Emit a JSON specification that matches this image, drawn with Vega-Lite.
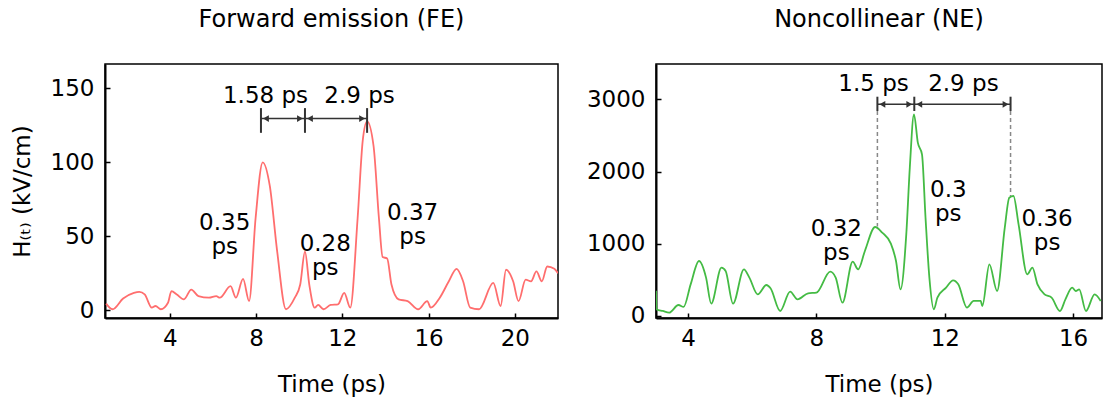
{
  "$schema": "https://vega.github.io/schema/vega-lite/v6.json",
  "background": "white",
  "padding": {"left": 10, "top": 7, "right": 0, "bottom": 5},
  "bounds": "flush",
  "spacing": 98,
  "config": {
    "font": "DejaVu Sans",
    "view": {"stroke": "black", "strokeWidth": 1.5},
    "axis": {
      "grid": false,
      "domainColor": "black",
      "domainWidth": 2,
      "tickColor": "black",
      "tickWidth": 1.5,
      "tickSize": -5,
      "labelFontSize": 23,
      "labelColor": "black",
      "titleFontSize": 23,
      "titleFontWeight": "normal",
      "titleColor": "black",
      "format": "d"
    },
    "axisX": {"labelPadding": 14, "titlePadding": 23},
    "axisY": {"labelPadding": 16, "titlePadding": 16},
    "title": {"fontSize": 24, "fontWeight": "normal", "color": "black", "offset": 32}
  },
  "datasets": {
    "fe": [
      {"t": 1.05, "h": 4.5}, {"t": 1.35, "h": 0.7}, {"t": 1.84, "h": 8.0}, {"t": 2.34, "h": 11.8}, {"t": 2.59, "h": 12.5},
      {"t": 2.84, "h": 10.7}, {"t": 3.17, "h": 1.8}, {"t": 3.34, "h": 2.9}, {"t": 3.59, "h": 0.7}, {"t": 3.92, "h": 5.1},
      {"t": 4.08, "h": 12.9}, {"t": 4.33, "h": 10.7}, {"t": 4.66, "h": 7.4}, {"t": 5.0, "h": 14}, {"t": 5.33, "h": 9.6},
      {"t": 5.82, "h": 8.5}, {"t": 6.16, "h": 9.6}, {"t": 6.32, "h": 8.5}, {"t": 6.82, "h": 16.3}, {"t": 7.07, "h": 8.5},
      {"t": 7.4, "h": 21.2}, {"t": 7.68, "h": 6.2}, {"t": 7.98, "h": 62}, {"t": 8.31, "h": 100}, {"t": 8.64, "h": 84},
      {"t": 8.98, "h": 40}, {"t": 9.39, "h": 0.7}, {"t": 9.8, "h": 8.5}, {"t": 10.05, "h": 17.4}, {"t": 10.27, "h": 39.7},
      {"t": 10.47, "h": 17.4}, {"t": 10.72, "h": 1.8}, {"t": 10.88, "h": 3.6}, {"t": 11.13, "h": 0.7}, {"t": 11.46, "h": 3.6},
      {"t": 11.8, "h": 4.0}, {"t": 12.09, "h": 11.8}, {"t": 12.37, "h": 1.8}, {"t": 12.71, "h": 62}, {"t": 12.95, "h": 115},
      {"t": 13.15, "h": 127.7}, {"t": 13.45, "h": 111}, {"t": 13.7, "h": 62}, {"t": 13.87, "h": 36}, {"t": 14.08, "h": 35},
      {"t": 14.28, "h": 17.4}, {"t": 14.61, "h": 7.4}, {"t": 15.03, "h": 6.2}, {"t": 15.52, "h": 0.7}, {"t": 15.94, "h": 6.2},
      {"t": 16.1, "h": 1.8}, {"t": 16.52, "h": 8.5}, {"t": 16.94, "h": 19.6}, {"t": 17.3, "h": 28}, {"t": 17.6, "h": 19.6},
      {"t": 17.93, "h": 1.8}, {"t": 18.34, "h": 0.7}, {"t": 19.0, "h": 18.5}, {"t": 19.34, "h": 2.9}, {"t": 19.59, "h": 27.4},
      {"t": 19.92, "h": 19.6}, {"t": 20.17, "h": 6.2}, {"t": 20.5, "h": 20.7}, {"t": 20.75, "h": 19.6}, {"t": 21.0, "h": 26.3},
      {"t": 21.25, "h": 19.6}, {"t": 21.5, "h": 29.6}, {"t": 21.83, "h": 28}, {"t": 22.0, "h": 25}
    ],
    "ne": [
      {"t": 3.0, "h": 350}, {"t": 3.02, "h": 90}, {"t": 3.21, "h": 69}, {"t": 3.41, "h": 46}, {"t": 3.7, "h": 152},
      {"t": 3.86, "h": 125}, {"t": 4.08, "h": 438}, {"t": 4.34, "h": 761}, {"t": 4.56, "h": 531}, {"t": 4.72, "h": 171},
      {"t": 5.04, "h": 669}, {"t": 5.17, "h": 623}, {"t": 5.4, "h": 171}, {"t": 5.74, "h": 646}, {"t": 5.91, "h": 531},
      {"t": 6.17, "h": 300}, {"t": 6.44, "h": 429}, {"t": 6.57, "h": 383}, {"t": 6.87, "h": 69}, {"t": 7.18, "h": 337},
      {"t": 7.41, "h": 231}, {"t": 7.74, "h": 314}, {"t": 8.0, "h": 323}, {"t": 8.43, "h": 614}, {"t": 8.6, "h": 531},
      {"t": 8.81, "h": 185}, {"t": 9.13, "h": 752}, {"t": 9.3, "h": 646}, {"t": 9.51, "h": 900}, {"t": 9.83, "h": 1232},
      {"t": 10.05, "h": 1154}, {"t": 10.32, "h": 1001}, {"t": 10.48, "h": 761}, {"t": 10.62, "h": 369}, {"t": 10.8, "h": 1130},
      {"t": 10.91, "h": 2053}, {"t": 11.04, "h": 2792}, {"t": 11.16, "h": 2400}, {"t": 11.29, "h": 2238}, {"t": 11.4, "h": 1361},
      {"t": 11.52, "h": 531}, {"t": 11.66, "h": 92}, {"t": 11.77, "h": 254}, {"t": 12.04, "h": 392}, {"t": 12.26, "h": 494},
      {"t": 12.42, "h": 438}, {"t": 12.69, "h": 115}, {"t": 12.9, "h": 208}, {"t": 13.12, "h": 208}, {"t": 13.17, "h": 138},
      {"t": 13.39, "h": 715}, {"t": 13.63, "h": 346}, {"t": 13.87, "h": 1223}, {"t": 14.01, "h": 1638}, {"t": 14.14, "h": 1661},
      {"t": 14.3, "h": 1269}, {"t": 14.57, "h": 577}, {"t": 14.73, "h": 669}, {"t": 14.89, "h": 438}, {"t": 15.11, "h": 300},
      {"t": 15.33, "h": 254}, {"t": 15.59, "h": 69}, {"t": 15.76, "h": 231}, {"t": 15.97, "h": 392}, {"t": 16.08, "h": 346},
      {"t": 16.19, "h": 369}, {"t": 16.4, "h": 69}, {"t": 16.67, "h": 300}, {"t": 16.86, "h": 208}
    ],
    "feBars": [
      {"t": 8.23, "y1": 136.6, "y2": 119.9},
      {"t": 10.27, "y1": 136.6, "y2": 119.9},
      {"t": 13.15, "y1": 136.6, "y2": 119.9}
    ],
    "feArrows": [
      {"x1": 8.23, "x2": 10.27, "y": 129.5},
      {"x1": 10.27, "x2": 13.15, "y": 129.5}
    ],
    "feText": [
      {"x": 8.44, "y": 145, "label": ["1.58 ps"]},
      {"x": 12.8, "y": 145, "label": ["2.9 ps"]},
      {"x": 6.55, "y": 59, "label": ["0.35", "ps"]},
      {"x": 11.21, "y": 45, "label": ["0.28", "ps"]},
      {"x": 15.26, "y": 65.5, "label": ["0.37", "ps"]}
    ],
    "neBars": [
      {"t": 9.9, "y1": 3036, "y2": 2838},
      {"t": 11.05, "y1": 3036, "y2": 2838},
      {"t": 14.05, "y1": 3036, "y2": 2838}
    ],
    "neDash": [
      {"t": 9.9, "y1": 2838, "y2": 1240},
      {"t": 14.05, "y1": 2838, "y2": 1660}
    ],
    "neArrows": [
      {"x1": 9.9, "x2": 11.05, "y": 2930},
      {"x1": 11.05, "x2": 14.05, "y": 2930}
    ],
    "neText": [
      {"x": 9.78, "y": 3216, "label": ["1.5 ps"]},
      {"x": 12.58, "y": 3216, "label": ["2.9 ps"]},
      {"x": 8.62, "y": 1211, "label": ["0.32", "ps"]},
      {"x": 12.11, "y": 1742, "label": ["0.3", "ps"]},
      {"x": 15.19, "y": 1338, "label": ["0.36", "ps"]}
    ]
  },
  "hconcat": [
    {
      "width": 453,
      "height": 254,
      "title": {"text": "Forward emission (FE)", "fontSize": 24, "fontWeight": "normal", "offset": 32},
      "layer": [
        {
          "data": {"name": "fe"},
          "mark": {"type": "line", "color": "#ff6e6e", "strokeWidth": 1.8, "interpolate": "monotone", "clip": true},
          "encoding": {
            "x": {"field": "t", "type": "quantitative", "title": "Time (ps)",
                  "scale": {"domain": [1, 22], "nice": false, "zero": false},
                  "axis": {"values": [4, 8, 12, 16, 20]}},
            "y": {"field": "h", "type": "quantitative", "title": "H₍ₜ₎ (kV/cm)",
                  "scale": {"domain": [-5.2, 166.4], "nice": false, "zero": false},
                  "axis": {"values": [0, 50, 100, 150]}}
          }
        },
        {
          "data": {"name": "feBars"},
          "mark": {"type": "rule", "color": "#333333", "strokeWidth": 2},
          "encoding": {
            "x": {"field": "t", "type": "quantitative", "title": "Time (ps)"},
            "y": {"field": "y1", "type": "quantitative", "title": "H₍ₜ₎ (kV/cm)"},
            "y2": {"field": "y2"}
          }
        },
        {
          "data": {"name": "feArrows"},
          "mark": {"type": "rule", "color": "#333333", "strokeWidth": 1.5},
          "encoding": {
            "x": {"field": "x1", "type": "quantitative", "title": "Time (ps)"},
            "x2": {"field": "x2"},
            "y": {"field": "y", "type": "quantitative", "title": "H₍ₜ₎ (kV/cm)"}
          }
        },
        {
          "data": {"name": "feArrows"},
          "mark": {"type": "point", "shape": "triangle-left", "filled": true, "size": 45, "xOffset": 5, "color": "#333333", "opacity": 1},
          "encoding": {
            "x": {"field": "x1", "type": "quantitative", "title": "Time (ps)"},
            "y": {"field": "y", "type": "quantitative", "title": "H₍ₜ₎ (kV/cm)"}
          }
        },
        {
          "data": {"name": "feArrows"},
          "mark": {"type": "point", "shape": "triangle-right", "filled": true, "size": 45, "xOffset": -5, "color": "#333333", "opacity": 1},
          "encoding": {
            "x": {"field": "x2", "type": "quantitative", "title": "Time (ps)"},
            "y": {"field": "y", "type": "quantitative", "title": "H₍ₜ₎ (kV/cm)"}
          }
        },
        {
          "data": {"name": "feText"},
          "mark": {"type": "text", "fontSize": 23, "lineHeight": 24, "color": "black", "baseline": "middle", "align": "center"},
          "encoding": {
            "x": {"field": "x", "type": "quantitative", "title": "Time (ps)"},
            "y": {"field": "y", "type": "quantitative", "title": "H₍ₜ₎ (kV/cm)"},
            "text": {"field": "label"}
          }
        }
      ]
    },
    {
      "width": 446,
      "height": 254,
      "title": {"text": "Noncollinear (NE)", "fontSize": 24, "fontWeight": "normal", "offset": 32},
      "layer": [
        {
          "data": {"name": "ne"},
          "mark": {"type": "line", "color": "#44bb44", "strokeWidth": 1.8, "interpolate": "monotone", "clip": true},
          "encoding": {
            "x": {"field": "t", "type": "quantitative", "title": "Time (ps)",
                  "scale": {"domain": [3, 16.9], "nice": false, "zero": false},
                  "axis": {"values": [4, 8, 12, 16]}},
            "y": {"field": "h", "type": "quantitative", "title": null,
                  "scale": {"domain": [-28, 3489], "nice": false, "zero": false},
                  "axis": {"values": [0, 1000, 2000, 3000]}}
          }
        },
        {
          "data": {"name": "neDash"},
          "mark": {"type": "rule", "color": "#888888", "strokeWidth": 1.5, "strokeDash": [4, 3]},
          "encoding": {
            "x": {"field": "t", "type": "quantitative", "title": "Time (ps)"},
            "y": {"field": "y1", "type": "quantitative", "title": null},
            "y2": {"field": "y2"}
          }
        },
        {
          "data": {"name": "neBars"},
          "mark": {"type": "rule", "color": "#333333", "strokeWidth": 2},
          "encoding": {
            "x": {"field": "t", "type": "quantitative", "title": "Time (ps)"},
            "y": {"field": "y1", "type": "quantitative", "title": null},
            "y2": {"field": "y2"}
          }
        },
        {
          "data": {"name": "neArrows"},
          "mark": {"type": "rule", "color": "#333333", "strokeWidth": 1.5},
          "encoding": {
            "x": {"field": "x1", "type": "quantitative", "title": "Time (ps)"},
            "x2": {"field": "x2"},
            "y": {"field": "y", "type": "quantitative", "title": null}
          }
        },
        {
          "data": {"name": "neArrows"},
          "mark": {"type": "point", "shape": "triangle-left", "filled": true, "size": 45, "xOffset": 5, "color": "#333333", "opacity": 1},
          "encoding": {
            "x": {"field": "x1", "type": "quantitative", "title": "Time (ps)"},
            "y": {"field": "y", "type": "quantitative", "title": null}
          }
        },
        {
          "data": {"name": "neArrows"},
          "mark": {"type": "point", "shape": "triangle-right", "filled": true, "size": 45, "xOffset": -5, "color": "#333333", "opacity": 1},
          "encoding": {
            "x": {"field": "x2", "type": "quantitative", "title": "Time (ps)"},
            "y": {"field": "y", "type": "quantitative", "title": null}
          }
        },
        {
          "data": {"name": "neText"},
          "mark": {"type": "text", "fontSize": 23, "lineHeight": 24, "color": "black", "baseline": "middle", "align": "center"},
          "encoding": {
            "x": {"field": "x", "type": "quantitative", "title": "Time (ps)"},
            "y": {"field": "y", "type": "quantitative", "title": null},
            "text": {"field": "label"}
          }
        }
      ]
    }
  ]
}
